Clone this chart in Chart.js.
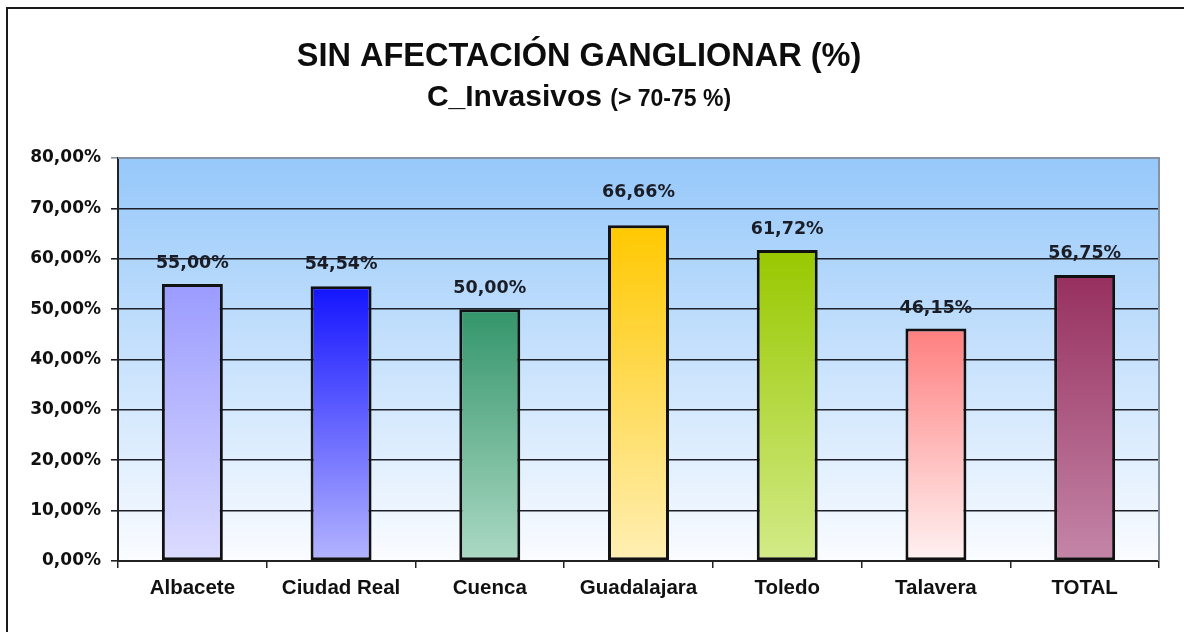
<!DOCTYPE html>
<html lang="es">
<head>
<meta charset="utf-8">
<title>Sin afectación ganglionar</title>
<script src="https://cdn.jsdelivr.net/npm/chart.js@4/dist/chart.umd.min.js"></script>
<style>
  html, body { margin: 0; padding: 0; background: #fff; overflow: hidden; }
  canvas { display: block; }
</style>
</head>
<body>
<canvas id="chart" width="1184" height="632"></canvas>
<script>
const titleText = "SIN AFECTACIÓN GANGLIONAR (%)"
const subtitleMain = "C_Invasivos"
const subtitleNote = "(> 70-75 %)"

const categories = ["Albacete", "Ciudad Real", "Cuenca", "Guadalajara", "Toledo", "Talavera", "TOTAL"]
const values = [55.0, 54.54, 50.0, 66.66, 61.72, 46.15, 56.75]
const yTicks = [0, 10, 20, 30, 40, 50, 60, 70, 80]

// top / bottom colour of each bar's vertical gradient
const barTop = ["#9b9bff", "#1414ff", "#33956a", "#ffc800", "#98c800", "#ff7f7f", "#97305f"]
const barBottom = ["#dcdcff", "#b4b4ff", "#acd9c4", "#ffefb4", "#d3eb88", "#fff2f2", "#c486a8"]
// how far each value label sits above its bar
const labelLift = [16, 17, 16, 28, 16, 16, 17]

const axisFont = "'DejaVu Sans', sans-serif"
const titleFont = "'Liberation Sans', Arial, sans-serif"

function pct(v) {
  return v.toFixed(2).replace(".", ",") + "%"
}

function barGradient(context) {
  const chart = context.chart
  const i = context.dataIndex
  if (!chart.chartArea) return barTop[i]
  const y = chart.scales.y
  const top = y.getPixelForValue(context.raw)
  const base = y.getPixelForValue(0)
  const g = chart.ctx.createLinearGradient(0, top, 0, base)
  g.addColorStop(0, barTop[i])
  g.addColorStop(1, barBottom[i])
  return g
}

const plotBackground = {
  id: "plotBackground",
  beforeDraw(chart) {
    const { ctx, chartArea: a } = chart
    const g = ctx.createLinearGradient(0, a.top, 0, a.bottom)
    g.addColorStop(0, "#96c8fa")
    g.addColorStop(1, "#fafcff")
    ctx.save()
    ctx.fillStyle = g
    ctx.fillRect(a.left, a.top, a.right - a.left, a.bottom - a.top)
    // outer frame, top and left edges only
    ctx.strokeStyle = "#1a1a1a"
    ctx.lineWidth = 2
    ctx.beginPath()
    ctx.moveTo(chart.width + 2, 8)
    ctx.lineTo(7, 8)
    ctx.lineTo(7, chart.height + 2)
    ctx.stroke()
    ctx.restore()
  },
  afterDraw(chart) {
    const { ctx, chartArea: a } = chart
    ctx.save()
    ctx.strokeStyle = "#8793a0"
    ctx.lineWidth = 2
    ctx.beginPath()
    ctx.moveTo(a.left, a.top)
    ctx.lineTo(a.right, a.top)
    ctx.lineTo(a.right, a.bottom)
    ctx.stroke()
    ctx.restore()
  }
}

const valueLabels = {
  id: "valueLabels",
  afterDatasetsDraw(chart) {
    const { ctx } = chart
    const meta = chart.getDatasetMeta(0)
    ctx.save()
    ctx.font = "bold 17.5px " + axisFont
    ctx.fillStyle = "#1a1d26"
    ctx.textAlign = "center"
    ctx.textBaseline = "alphabetic"
    meta.data.forEach((bar, i) => {
      ctx.fillText(pct(values[i]), bar.x, bar.y - labelLift[i])
    })
    ctx.restore()
  }
}

const headings = {
  id: "headings",
  afterDraw(chart) {
    const { ctx } = chart
    const cx = 579
    ctx.save()
    ctx.fillStyle = "#0d0d0d"
    ctx.textBaseline = "alphabetic"
    ctx.textAlign = "center"
    ctx.font = "bold 32.5px " + titleFont
    ctx.fillText(titleText, cx, 66)

    ctx.textAlign = "left"
    ctx.font = "bold 30px " + titleFont
    const w1 = ctx.measureText(subtitleMain + " ").width
    ctx.font = "bold 23px " + titleFont
    const w2 = ctx.measureText(subtitleNote).width
    const x0 = cx - (w1 + w2) / 2
    ctx.font = "bold 30px " + titleFont
    ctx.fillText(subtitleMain, x0, 106)
    ctx.font = "bold 23px " + titleFont
    ctx.fillText(subtitleNote, x0 + w1, 106)
    ctx.restore()
  }
}

new Chart(document.getElementById("chart"), {
  type: "bar",
  data: {
    labels: categories,
    datasets: [
      {
        data: values,
        backgroundColor: barGradient,
        borderColor: "#111",
        borderWidth: 3,
        borderSkipped: false,
        barPercentage: 0.41,
        categoryPercentage: 1
      }
    ]
  },
  options: {
    responsive: false,
    animation: false,
    devicePixelRatio: 1,
    layout: { padding: { top: 158, right: 25, bottom: 0, left: 0 } },
    plugins: {
      legend: { display: false },
      title: { display: false },
      tooltip: { enabled: false }
    },
    scales: {
      x: {
        afterFit(scale) { scale.height = 71 },
        grid: {
          display: true,
          drawOnChartArea: false,
          drawTicks: true,
          tickLength: 7,
          offset: true,
          color: "#222",
          lineWidth: 1.5
        },
        border: { color: "#222", width: 2 },
        ticks: {
          padding: 8,
          color: "#111",
          font: { family: titleFont, size: 20.5, weight: "bold" }
        }
      },
      y: {
        min: 0,
        max: 80,
        afterFit(scale) { scale.width = 118 },
        afterBuildTicks(scale) { scale.ticks = yTicks.map((v) => ({ value: v })) },
        grid: {
          drawTicks: true,
          tickLength: 7,
          color: (c) => (c.tick && c.tick.value === 80 ? "#8793a0" : "#1d2028"),
          lineWidth: 1.6
        },
        border: { color: "#222", width: 2 },
        ticks: {
          padding: 10,
          color: "#111",
          font: { family: axisFont, size: 17, weight: "bold" },
          callback: (v) => pct(v)
        }
      }
    }
  },
  plugins: [plotBackground, valueLabels, headings]
})
</script>
</body>
</html>
